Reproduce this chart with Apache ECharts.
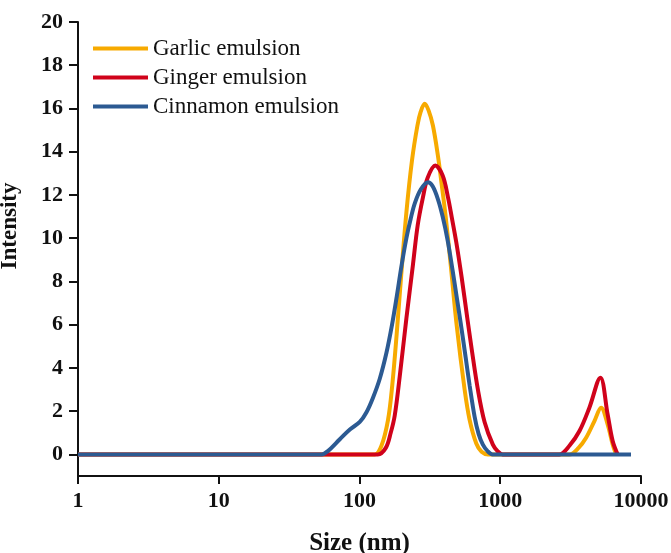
<!DOCTYPE html>
<html>
<head>
<meta charset="utf-8">
<script src="https://cdn.jsdelivr.net/npm/echarts@6/dist/echarts.min.js"></script>
<style>html,body{margin:0;padding:0;background:#fff}#c{width:671px;height:553px}</style>
</head>
<body>
<div id="c"></div>
<script>
const seriesNames = ['Garlic emulsion', 'Ginger emulsion', 'Cinnamon emulsion'];
const xTickLabels = [1, 10, 100, 1000, 10000];
const yTickLabels = [0, 2, 4, 6, 8, 10, 12, 14, 16, 18, 20];

const garlicX = [1, 115, 128.4, 143.2, 159.5, 170.9, 183.9, 197.9, 215.4, 236.1, 257.8, 272.2, 290.5, 310.0, 332.6, 360.9, 383.4, 409.4, 444.1, 489.8, 558.3, 605.7, 675.8, 736.9, 817.1, 900, 2800, 3100, 3600, 4074, 4667, 5203, 5794, 6291, 6650];
const garlicY = [0, 0, 0, 0.4, 1.6, 3.2, 5.6, 8.3, 11.2, 13.6, 15.2, 15.85, 16.22, 15.9, 15.2, 13.8, 12.5, 11.0, 8.8, 6.0, 3.0, 1.6, 0.5, 0.12, 0, 0, 0, 0, 0.3, 0.77, 1.54, 2.16, 1.39, 0.46, 0];

const gingerX = [1, 120, 134.9, 153.7, 166.7, 178.0, 193.1, 215.4, 240.0, 259.1, 282.5, 305.0, 345.9, 389.8, 425.0, 451.4, 487.4, 531.6, 583.4, 625.8, 693.5, 773.8, 886.3, 957.0, 1038.3, 1150, 2400, 2630, 3100, 3654, 4298, 5145, 5794, 6291, 6826];
const gingerY = [0, 0, 0, 0.3, 1.0, 1.8, 3.6, 6.3, 8.8, 10.6, 11.9, 12.8, 13.36, 12.9, 11.9, 11.0, 9.8, 8.2, 6.3, 4.9, 3.0, 1.5, 0.45, 0.15, 0, 0, 0, 0, 0.4, 1.08, 2.16, 3.55, 1.85, 0.62, 0];

const cinnamonX = [1, 45, 53.8, 59.6, 72.5, 85.4, 100.5, 112.1, 124.3, 139.3, 155.4, 170.3, 183.9, 198.6, 215.4, 231.1, 246.7, 272.2, 306.5, 331.1, 360.9, 389.8, 422.9, 458.9, 489.8, 525.6, 567.4, 605.7, 657.2, 701.6, 752.6, 812.9, 881.9, 1000, 8490];
const cinnamonY = [0, 0, 0, 0.15, 0.7, 1.15, 1.5, 1.95, 2.6, 3.5, 4.7, 6.0, 7.3, 8.7, 10.0, 10.9, 11.6, 12.25, 12.59, 12.4, 11.8, 11.0, 9.9, 8.5, 7.3, 6.0, 4.5, 3.2, 1.75, 0.95, 0.45, 0.15, 0, 0, 0];

const colors = ['#F7AA00', '#D0021B', '#2C5A92'];
const pairs = (xs, ys) => xs.map((x, i) => [x, ys[i]]);
const dataSets = [pairs(garlicX, garlicY), pairs(gingerX, gingerY), pairs(cinnamonX, cinnamonY)];

const font = '"Liberation Serif", "Times New Roman", serif';
const chart = echarts.init(document.getElementById('c'));
chart.setOption({
  animation: false,
  backgroundColor: '#fff',
  grid: { left: 78, right: 30, top: 22, bottom: 77, containLabel: false, outerBoundsMode: 'none' },
  legend: {
    orient: 'vertical', left: 93, top: 37, padding: 0,
    icon: 'rect',
    itemWidth: 55, itemHeight: 4, itemGap: 6,
    textStyle: { fontFamily: font, fontSize: 23, color: '#111', lineHeight: 23 },
    data: seriesNames
  },
  xAxis: {
    type: 'log', logBase: 10, min: 1, max: 10000,
    name: 'Size (nm)', nameLocation: 'middle', nameGap: 55,
    nameTextStyle: { fontFamily: font, fontSize: 25, fontWeight: 'bold', color: '#111' },
    axisLine: { onZero: false, lineStyle: { color: '#111', width: 2 } },
    axisTick: { show: true, length: 8, lineStyle: { color: '#111', width: 2 } },
    axisLabel: { margin: 14, fontFamily: font, fontSize: 22, fontWeight: 'bold', color: '#111',
      formatter: v => xTickLabels.includes(Math.round(v)) ? String(Math.round(v)) : '' },
    splitLine: { show: false }, minorTick: { show: false }
  },
  yAxis: {
    type: 'value', min: -1, max: 20,
    name: 'Intensity', nameLocation: 'middle', nameGap: 56, nameRotate: 90,
    nameTextStyle: { fontFamily: font, fontSize: 23, fontWeight: 'bold', color: '#111', padding: [0, 0, 0, 46] },
    axisLine: { show: true, onZero: false, lineStyle: { color: '#111', width: 2 } },
    axisTick: { show: true, length: 9, customValues: yTickLabels, lineStyle: { color: '#111', width: 2 } },
    axisLabel: { margin: 15, customValues: yTickLabels, fontFamily: font, fontSize: 22, fontWeight: 'bold', color: '#111' },
    splitLine: { show: false }
  },
  series: seriesNames.map((n, i) => ({
    name: n, type: 'line', data: dataSets[i], smooth: 0.35,
    symbol: 'none', showSymbol: false,
    color: colors[i],
    lineStyle: { color: colors[i], width: 4 },
    z: [2, 3, 4][i]
  }))
});
</script>
</body>
</html>
